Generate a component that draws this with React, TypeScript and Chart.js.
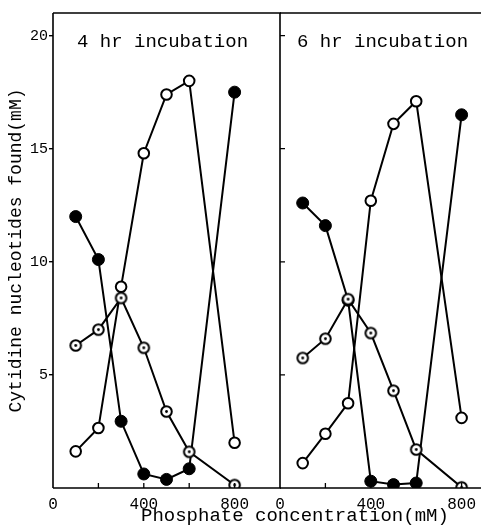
import React, { useEffect, useRef } from 'react';
import { Chart, registerables } from 'chart.js';

Chart.register(...registerables);

// Phosphate concentration (mM)
const CONC = [100, 200, 300, 400, 500, 600, 800];

// 4 hr incubation
const FILLED_4H = [12.0, 10.1, 2.95, 0.62, 0.38, 0.85, 17.5];
const OPEN_4H = [1.62, 2.65, 8.9, 14.8, 17.4, 18.0, 2.0];
const DOTTED_4H = [6.3, 7.0, 8.4, 6.2, 3.38, 1.6, 0.13];

// 6 hr incubation
const FILLED_6H = [12.6, 11.6, 8.3, 0.3, 0.15, 0.22, 16.5];
const OPEN_6H = [1.1, 2.4, 3.75, 12.7, 16.1, 17.1, 3.1];
const DOTTED_6H = [5.75, 6.6, 8.35, 6.85, 4.3, 1.7, 0.03];

const X_LABEL_TICKS = [0, 400, 800];
const X_MARK_TICKS = [200, 400, 600, 800];
const Y_TICKS = [5, 10, 15, 20];

const X_MIN = 0;
const X_MAX = 1000;
const Y_MIN = 0;
const Y_MAX = 21;

const FONT = "'Liberation Mono', 'Courier New', monospace";

function makeDotMarker(): HTMLCanvasElement {
  const c = document.createElement('canvas');
  c.width = 15;
  c.height = 15;
  const g = c.getContext('2d')!;
  g.beginPath();
  g.arc(7.5, 7.5, 5.3, 0, Math.PI * 2);
  g.fillStyle = '#fff';
  g.fill();
  g.lineWidth = 2;
  g.strokeStyle = '#000';
  g.stroke();
  g.beginPath();
  g.arc(7.5, 7.5, 1.4, 0, Math.PI * 2);
  g.fillStyle = '#000';
  g.fill();
  return c;
}

function buildDatasets(filled: number[], open: number[], dotted: number[], dot: HTMLCanvasElement) {
  const line = { borderColor: '#000', borderWidth: 2, showLine: true, tension: 0, fill: false };
  const pts = (arr: number[]) => CONC.map((x, i) => ({ x, y: arr[i] }));
  return [
    {
      ...line,
      label: 'dotted',
      data: pts(dotted),
      pointStyle: dot,
      pointRadius: 6,
    },
    {
      ...line,
      label: 'open',
      data: pts(open),
      pointStyle: 'circle',
      pointRadius: 5.3,
      pointBackgroundColor: '#fff',
      pointBorderColor: '#000',
      pointBorderWidth: 2,
    },
    {
      ...line,
      label: 'filled',
      data: pts(filled),
      pointStyle: 'circle',
      pointRadius: 6,
      pointBackgroundColor: '#000',
      pointBorderColor: '#000',
      pointBorderWidth: 1,
    },
  ];
}

const framePlugin = {
  id: 'frame',
  afterDraw(chart: any, _args: any, opts: any) {
    const { ctx, chartArea: a, scales } = chart;
    ctx.save();
    ctx.strokeStyle = '#000';
    ctx.lineWidth = 1.6;
    ctx.beginPath();
    ctx.moveTo(a.left, a.top);
    ctx.lineTo(a.right + 1, a.top);
    ctx.moveTo(a.left, a.bottom);
    ctx.lineTo(a.right + 1, a.bottom);
    if (opts.left) {
      ctx.moveTo(a.left, a.top);
      ctx.lineTo(a.left, a.bottom);
    }
    if (opts.right) {
      ctx.moveTo(a.right, a.top);
      ctx.lineTo(a.right, a.bottom);
    }
    ctx.stroke();
    ctx.lineWidth = 1.3;
    ctx.beginPath();
    for (const v of X_MARK_TICKS) {
      const x = scales.x.getPixelForValue(v);
      ctx.moveTo(x, a.bottom);
      ctx.lineTo(x, a.bottom - 5);
    }
    if (opts.innerY) {
      for (const v of Y_TICKS) {
        const y = scales.y.getPixelForValue(v);
        ctx.moveTo(a.left, y);
        ctx.lineTo(a.left + 5, y);
      }
    }
    ctx.stroke();
    ctx.restore();
  },
};

function xScale() {
  return {
    type: 'linear' as const,
    min: X_MIN,
    max: X_MAX,
    afterBuildTicks: (s: any) => {
      s.ticks = X_LABEL_TICKS.map((v) => ({ value: v }));
    },
    afterFit: (s: any) => {
      s.height = 41;
      s.paddingLeft = 0;
      s.paddingRight = 0;
    },
    grid: { display: false },
    border: { display: false },
    ticks: {
      color: '#000',
      font: { family: FONT, size: 16 },
      padding: -1,
      maxRotation: 0,
      autoSkip: false,
    },
  };
}

export default function App() {
  const leftRef = useRef<HTMLCanvasElement>(null);
  const rightRef = useRef<HTMLCanvasElement>(null);

  useEffect(() => {
    const dot = makeDotMarker();
    const left = new Chart(leftRef.current!, {
      type: 'line',
      data: { datasets: buildDatasets(FILLED_4H, OPEN_4H, DOTTED_4H, dot) as any },
      plugins: [framePlugin],
      options: {
        responsive: false,
        animation: false,
        events: [],
        layout: { autoPadding: false, padding: { top: 13, right: 2, left: 0, bottom: 0 } },
        plugins: {
          legend: { display: false },
          tooltip: { enabled: false },
          frame: { left: true, right: true, innerY: false },
        } as any,
        scales: {
          x: xScale(),
          y: {
            type: 'linear',
            min: Y_MIN,
            max: Y_MAX,
            afterBuildTicks: (s: any) => {
              s.ticks = Y_TICKS.map((v) => ({ value: v }));
            },
            afterFit: (s: any) => {
              s.width = 53;
              s.paddingTop = 0;
              s.paddingBottom = 0;
            },
            grid: { drawOnChartArea: false, drawTicks: true, tickLength: 4, color: '#000', lineWidth: 1.4 },
            border: { display: false },
            ticks: { color: '#000', font: { family: FONT, size: 15 }, padding: 1 },
            title: {
              display: true,
              text: 'Cytidine nucleotides found(mM)',
              color: '#000',
              font: { family: FONT, size: 18 },
              padding: { top: 5, bottom: 0 },
            },
          },
        },
      },
    });
    const right = new Chart(rightRef.current!, {
      type: 'line',
      data: { datasets: buildDatasets(FILLED_6H, OPEN_6H, DOTTED_6H, dot) as any },
      plugins: [framePlugin],
      options: {
        responsive: false,
        animation: false,
        events: [],
        layout: { autoPadding: false, padding: { top: 13, right: 1, left: 10, bottom: 0 } },
        plugins: {
          legend: { display: false },
          tooltip: { enabled: false },
          frame: { left: false, right: false, innerY: true },
        } as any,
        scales: {
          x: xScale(),
          y: { type: 'linear', min: Y_MIN, max: Y_MAX, display: false },
        },
      },
    });
    return () => {
      left.destroy();
      right.destroy();
    };
  }, []);

  const textStyle: React.CSSProperties = {
    position: 'absolute',
    fontFamily: FONT,
    fontSize: 19,
    lineHeight: '19px',
    color: '#000',
    whiteSpace: 'nowrap',
  };

  return (
    <div
      style={{
        position: 'fixed',
        left: 0,
        top: 0,
        width: 481,
        height: 529,
        overflow: 'hidden',
        background: '#fff',
      }}
    >
      <canvas ref={leftRef} width={282} height={529} style={{ position: 'absolute', left: 0, top: 0 }} />
      <canvas ref={rightRef} width={238} height={529} style={{ position: 'absolute', left: 270, top: 0 }} />
      <div style={{ ...textStyle, left: 77, top: 33 }}>4 hr incubation</div>
      <div style={{ ...textStyle, left: 297, top: 33 }}>6 hr incubation</div>
      <div style={{ ...textStyle, left: 141, top: 507 }}>Phosphate concentration(mM)</div>
    </div>
  );
}
